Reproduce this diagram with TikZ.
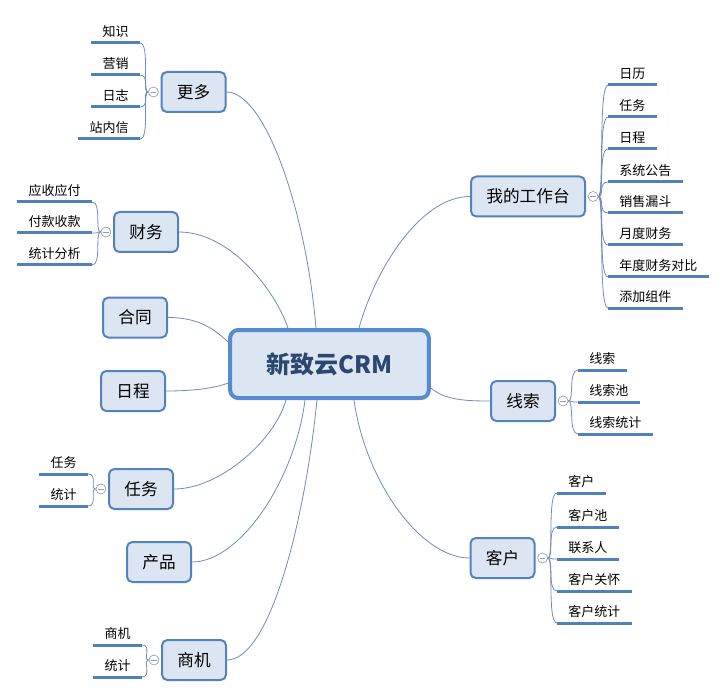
\documentclass[tikz,border=0pt]{standalone}
\usepackage{fontspec}
\setmainfont{Noto Sans CJK SC}
\usepackage{tikz}
\usetikzlibrary{positioning,calc}

\definecolor{boxfill}{RGB}{220,230,242}
\definecolor{boxline}{RGB}{84,130,192}
\definecolor{rootline}{RGB}{86,138,210}
\definecolor{roottext}{RGB}{44,72,112}
\definecolor{leafblue}{RGB}{79,129,189}
\definecolor{linkblue}{RGB}{112,140,186}
\definecolor{foldgray}{RGB}{150,158,170}

\begin{document}
\begin{tikzpicture}[x=0.75pt, y=-0.75pt]
\tikzstyle{root}=[draw=rootline, line width=3pt, rounded corners=6pt, fill=boxfill, text=roottext, font=\fontsize{18}{20}\selectfont\bfseries, minimum width=149pt, minimum height=51pt]
\tikzstyle{topic}=[draw=boxline, line width=1.5pt, rounded corners=4pt, fill=boxfill, font=\fontsize{12.5}{14}\selectfont, inner xsep=11.5pt, minimum height=30pt]
\tikzstyle{leafline}=[draw=leafblue, line width=2.25pt]
\tikzstyle{leaf}=[font=\fontsize{9.75}{11}\selectfont, inner xsep=8.25pt, inner ysep=2.8pt, text height=8pt, text depth=2pt, append after command={(\tikzlastnode.south west) edge[leafline] (\tikzlastnode.south east)}]
\tikzstyle{fold}=[circle, draw=foldgray, fill=white, line width=0.5pt, minimum size=7.5pt, inner sep=0pt, path picture={\draw[foldgray, line width=0.5pt] ([xshift=-2pt]path picture bounding box.center) -- ([xshift=2pt]path picture bounding box.center);}]
\tikzstyle{link}=[draw=linkblue, line width=0.6pt]
\tikzstyle{twig}=[draw=linkblue, line width=0.6pt]

\fill[white] (0,0) rectangle (727,698);
\useasboundingbox (0,0) rectangle (727,698);

% main topics
\node[root] (crm) at (329.5,364) {新致云CRM};
\node[topic] (more) at (193.5,92) {更多};
\node[topic] (fin) at (146,232) {财务};
\node[topic] (contract) at (135,317.5) {合同};
\node[topic] (sched) at (133,391) {日程};
\node[topic] (task) at (141,489) {任务};
\node[topic] (prod) at (159,562) {产品};
\node[topic] (biz) at (194,660) {商机};
\node[topic] (desk) at (528,196.5) {我的工作台};
\node[topic] (lead) at (523,401) {线索};
\node[topic] (cust) at (502.5,558) {客户};

% fold markers
\node[fold, left=1.3pt of more] (morefold) {};
\node[fold, left=1.3pt of fin] (finfold) {};
\node[fold, left=1.3pt of task] (taskfold) {};
\node[fold, left=1.3pt of biz] (bizfold) {};
\node[fold, right=1.3pt of desk] (deskfold) {};
\node[fold, right=1.3pt of lead] (leadfold) {};
\node[fold, right=1.3pt of cust] (custfold) {};

% leaves, left side
\node[leaf, anchor=south east] (more1) at (140,43) {知识};
\node[leaf, anchor=south east] (more2) at (140,75) {营销};
\node[leaf, anchor=south east] (more3) at (140,107) {日志};
\node[leaf, anchor=south east] (more4) at (140,139) {站内信};
\node[leaf, anchor=south east] (fin1) at (92,202) {应收应付};
\node[leaf, anchor=south east] (fin2) at (92,233) {付款收款};
\node[leaf, anchor=south east] (fin3) at (92,265) {统计分析};
\node[leaf, anchor=south east] (task1) at (88,474) {任务};
\node[leaf, anchor=south east] (task2) at (88,506) {统计};
\node[leaf, anchor=south east] (biz1) at (142,645) {商机};
\node[leaf, anchor=south east] (biz2) at (142,677) {统计};

% leaves, right side
\node[leaf, anchor=south west] (desk1) at (608,85) {日历};
\node[leaf, anchor=south west] (desk2) at (608,117) {任务};
\node[leaf, anchor=south west] (desk3) at (608,149) {日程};
\node[leaf, anchor=south west] (desk4) at (608,182) {系统公告};
\node[leaf, anchor=south west] (desk5) at (608,213) {销售漏斗};
\node[leaf, anchor=south west] (desk6) at (608,245) {月度财务};
\node[leaf, anchor=south west] (desk7) at (608,277) {年度财务对比};
\node[leaf, anchor=south west] (desk8) at (608,308) {添加组件};
\node[leaf, anchor=south west] (lead1) at (578,370) {线索};
\node[leaf, anchor=south west] (lead2) at (578,402) {线索池};
\node[leaf, anchor=south west] (lead3) at (578,434) {线索统计};
\node[leaf, anchor=south west] (cust1) at (557,493) {客户};
\node[leaf, anchor=south west] (cust2) at (557,527) {客户池};
\node[leaf, anchor=south west] (cust3) at (557,559) {联系人};
\node[leaf, anchor=south west] (cust4) at (557,591) {客户关怀};
\node[leaf, anchor=south west] (cust5) at (557,623) {客户统计};

% links from the centre
\draw[link] ($(crm.north)+(-13.5,0)$) .. controls (306,210) and (265,92) .. (more.east);
\draw[link] ($(crm.north)+(-41.5,0)$) .. controls (275,290) and (230,232) .. (fin.east);
\draw[link] ($(crm.north)+(29.5,0)$) .. controls (375,270) and (420,196.5) .. (desk.west);
\draw[link] ($(crm.west)+(0,-22)$) .. controls (215,330) and (200,317.5) .. (contract.east);
\draw[link] ($(crm.west)+(0,19)$) .. controls (215,388) and (195,391) .. (sched.east);
\draw[link] ($(crm.east)+(0,24)$) .. controls (445,400) and (465,401) .. (lead.west);
\draw[link] ($(crm.south)+(-43.5,0)$) .. controls (275,440) and (220,489) .. (task.east);
\draw[link] ($(crm.south)+(-24.5,0)$) .. controls (295,480) and (240,562) .. (prod.east);
\draw[link] ($(crm.south)+(-12.5,0)$) .. controls (305,520) and (270,660) .. (biz.east);
\draw[link] ($(crm.south)+(24.5,0)$) .. controls (365,480) and (420,558) .. (cust.west);

% brackets to the leaves
\foreach \n in {1,...,4} \draw[twig] (morefold.west) .. controls +(-6,0) and +(10,0) .. (more\n.south east);
\foreach \n in {1,...,3} \draw[twig] (finfold.west) .. controls +(-6,0) and +(10,0) .. (fin\n.south east);
\foreach \n in {1,2} \draw[twig] (taskfold.west) .. controls +(-6,0) and +(10,0) .. (task\n.south east);
\foreach \n in {1,2} \draw[twig] (bizfold.west) .. controls +(-6,0) and +(10,0) .. (biz\n.south east);
\foreach \n in {1,...,8} \draw[twig] (deskfold.east) .. controls +(6,0) and +(-10,0) .. (desk\n.south west);
\foreach \n in {1,...,3} \draw[twig] (leadfold.east) .. controls +(6,0) and +(-10,0) .. (lead\n.south west);
\foreach \n in {1,...,5} \draw[twig] (custfold.east) .. controls +(6,0) and +(-10,0) .. (cust\n.south west);
\end{tikzpicture}
\end{document}
